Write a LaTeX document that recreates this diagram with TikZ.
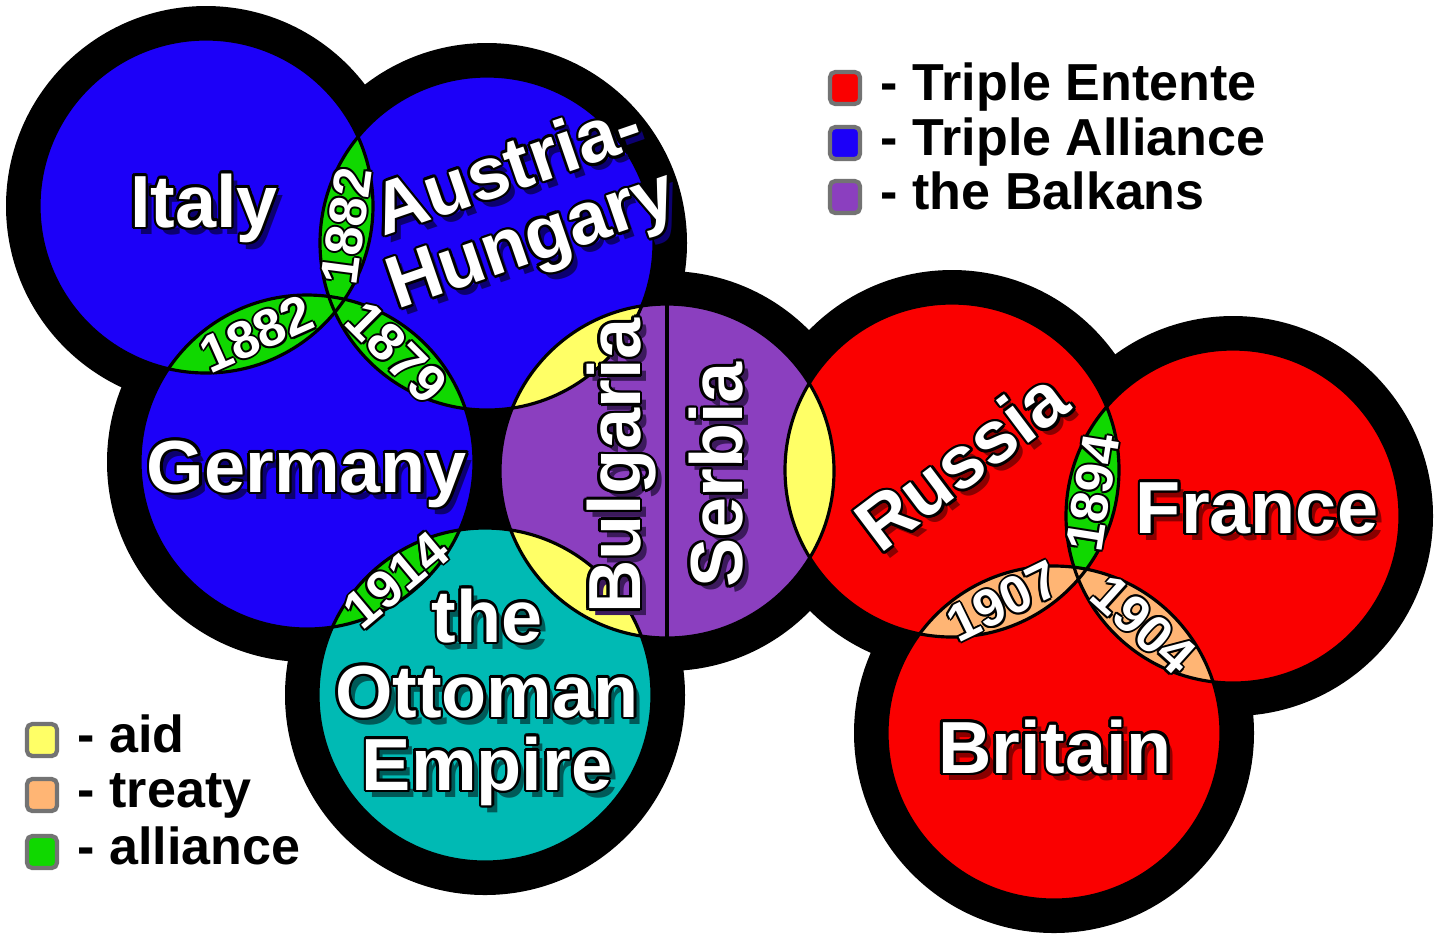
\documentclass[tikz,border=0pt]{standalone}
\usepackage{fontspec}
\setmainfont{Liberation Sans}
\usetikzlibrary{calc,positioning}
\definecolor{entente}{HTML}{FA0000}
\definecolor{triple}{HTML}{1C00F8}
\definecolor{balkan}{HTML}{8B3FBF}
\definecolor{ottoman}{HTML}{00BAB4}
\definecolor{aid}{HTML}{FFFF66}
\definecolor{treaty}{HTML}{FFB574}
\definecolor{alliance}{HTML}{10D800}
\definecolor{ententedark}{HTML}{8A0000}
\definecolor{tripledark}{HTML}{0C0070}
\definecolor{balkandark}{HTML}{3C1A5C}
\definecolor{ottomandark}{HTML}{005A58}

\begin{document}
\begin{tikzpicture}[x=0.01cm,y=-0.01cm]

\tikzset{country/.style={font=\fontsize{21}{21}\selectfont\bfseries,inner sep=0pt,anchor=base},
year/.style={font=\fontsize{15}{15}\selectfont\bfseries,inner sep=0pt},
keybox/.style={draw=black!55,line width=1.2pt,rounded corners=1.5pt,minimum width=0.3cm,minimum height=0.32cm,inner sep=0pt},
keytext/.style={font=\fontsize{14.8}{14.8}\selectfont\bfseries,inner sep=0pt,text height=0.72em,text depth=0pt},
rim/.style={line width=0.9pt}}

\useasboundingbox (0,0) rectangle (1440,938);

% Circle centres
\coordinate (it) at (206,206);
\coordinate (au) at (487,243);
\coordinate (ge) at (307,462);
\coordinate (ot) at (485,695);
\coordinate (ba) at (667,471);
\coordinate (ru) at (952,470);
\coordinate (fr) at (1233,516);
\coordinate (br) at (1054,733);

% Black border
\foreach \c in {it,au,ge,ot,ba,ru,fr,br} \fill[black] (\c) circle[radius=200];

% Countries
\foreach \c/\f in {it/triple,au/triple,ge/triple,ot/ottoman,ba/balkan,ru/entente,fr/entente,br/entente} \fill[fill=\f] (\c) circle[radius=167];

% Overlaps
\foreach \a/\b/\f in {it/au/alliance,it/ge/alliance,au/ge/alliance,ge/ot/alliance,au/ba/aid,ot/ba/aid,ru/ba/aid,ru/fr/alliance,ru/br/treaty,fr/br/treaty}
  {\begin{scope} \clip (\a) circle[radius=167]; \fill[fill=\f] (\b) circle[radius=167]; \end{scope}}

% Outlines
\foreach \c in {it,au,ge,ot,ba,ru,fr,br} \draw[rim] (\c) circle[radius=167];
\draw[rim] ($(ba)+(0,-167)$) -- ($(ba)+(0,167)$); % Bulgaria | Serbia

% Country names (shadow, black outline, white)
\foreach \n/\x/\y/\r/\s/\t in {italy/204/227/0/tripledark/Italy, austria/515/191/19/tripledark/Austria-, hungary/539/261/19/tripledark/Hungary,
  germany/307/492/0/tripledark/Germany, the/487/642/0/ottomandark/the, ottoman/487/717/0/ottomandark/Ottoman, empire/487/790/0/ottomandark/Empire,
  bulgaria/640/466/90/balkandark/Bulgaria, serbia/742/475/90/balkandark/Serbia,
  russia/977/482/37/ententedark/Russia, france/1257/533/0/ententedark/France, britain/1055/773/0/ententedark/Britain}
{\node[country,rotate=\r,text=\s] (\n-s) at (\x+6,\y+7) {\t};
 \foreach \a in {0,30,...,330} \node[country,rotate=\r] (\n-o\a) at ($(\x,\y)+(\a:2.5)$) {\t};
 \node[country,rotate=\r,text=white] (\n) at (\x,\y) {\t};}

% Years
\foreach \n/\x/\y/\r/\t in {itau/346.5/226/82.5/1882, itge/256.5/334/24/1882, auge/397/352.5/-45/1879, geot/396/580/40/1914,
  rufr/1092.5/493/81/1894, rubr/1003/601.5/26/1907, frbr/1143.5/624.5/-42/1904}
{\foreach \a in {0,45,...,315} \node[year,rotate=\r] (\n-o\a) at ($(\x,\y)+(\a:2)$) {\t};
 \node[year,rotate=\r,text=white] (\n) at (\x,\y) {\t};}

% Key (top)
\node[keybox,fill=entente] (kent) at (845,88) {};
\node[keytext,right=0.18cm of kent] (tent) {- Triple Entente};
\node[keybox,fill=triple] (kall) at (845,143) {};
\node[keytext,right=0.18cm of kall] (tall) {- Triple Alliance};
\node[keybox,fill=balkan] (kbal) at (845,197) {};
\node[keytext,right=0.18cm of kbal] (tbal) {- the Balkans};

% Key (bottom)
\node[keybox,fill=aid] (kaid) at (42,740) {};
\node[keytext,right=0.18cm of kaid] (taid) {- aid};
\node[keybox,fill=treaty] (ktre) at (42,795) {};
\node[keytext,right=0.18cm of ktre] (ttre) {- treaty};
\node[keybox,fill=alliance] (kali) at (42,852) {};
\node[keytext,right=0.18cm of kali] (tali) {- alliance};

\end{tikzpicture}
\end{document}
